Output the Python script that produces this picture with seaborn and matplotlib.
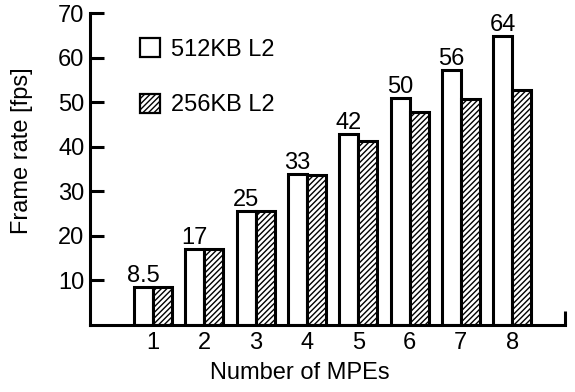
import pandas as pd
import matplotlib
matplotlib.use("Agg")
import matplotlib.pyplot as plt
import seaborn as sns
from matplotlib.patches import Patch

# values
mpes = ["1", "2", "3", "4", "5", "6", "7", "8"]
fps_512 = [8.5, 17.0, 25.5, 34.0, 42.8, 51.0, 57.3, 65.0]
fps_256 = [8.5, 17.0, 25.5, 33.7, 41.4, 47.8, 50.8, 52.7]
labels_512 = ["8.5", "17", "25", "33", "42", "50", "56", "64"]
series = ["512KB L2", "256KB L2"]

sns.set_style("ticks", {"axes.edgecolor": "black", "text.color": "black",
                        "xtick.color": "black", "ytick.color": "black",
                        "axes.labelcolor": "black"})
plt.rcParams["font.family"] = ["Liberation Sans", "DejaVu Sans"]
plt.rcParams["hatch.linewidth"] = 1.0

df = pd.DataFrame({
    "MPEs": mpes * 2,
    "fps": fps_512 + fps_256,
    "cache": [series[0]] * len(mpes) + [series[1]] * len(mpes),
})

fig = plt.figure(figsize=(5.75, 3.92), dpi=100)
ax = fig.add_axes([0.1565, 0.171, 0.826, 0.795])

lw = 2.2
fs = 17
sns.barplot(data=df, x="MPEs", y="fps", hue="cache", hue_order=series,
            palette=["white", "white"], edgecolor="black", linewidth=lw,
            width=0.74, legend=False, ax=ax)

for bar in ax.containers[1]:
    bar.set_hatch("//////")

ax.bar_label(ax.containers[0], labels=labels_512, padding=0, fontsize=fs)

ax.set_ylim(0, 70)
ax.set_xlim(-1.23, 8.03)
ax.set_yticks([10, 20, 30, 40, 50, 60, 70])
ax.tick_params(axis="y", direction="in", length=10, width=lw, labelsize=fs, pad=4)
ax.tick_params(axis="x", which="major", length=0, labelsize=fs, pad=5)
ax.set_xticks([8.03], minor=True)
ax.tick_params(axis="x", which="minor", direction="in", length=10, width=lw)

sns.despine(ax=ax)
for side in ["left", "bottom"]:
    ax.spines[side].set_linewidth(lw)

ax.set_xlabel("Number of MPEs", fontsize=fs)
ax.set_ylabel("Frame rate [fps]", fontsize=fs)
ax.xaxis.set_label_coords(0.442, -0.118)
ax.yaxis.set_label_coords(-0.12, 0.56)

handles = [
    Patch(facecolor="white", edgecolor="black", linewidth=1.6, label=series[0]),
    Patch(facecolor="white", edgecolor="black", linewidth=1.6, hatch="//////", label=series[1]),
]
ax.legend(handles=handles, loc="upper left", bbox_to_anchor=(0.105, 0.92),
          frameon=False, fontsize=fs, handlelength=0.85, handleheight=0.85,
          handletextpad=0.45, labelspacing=1.4, borderpad=0, borderaxespad=0)

fig.savefig("out.png", dpi=100)
